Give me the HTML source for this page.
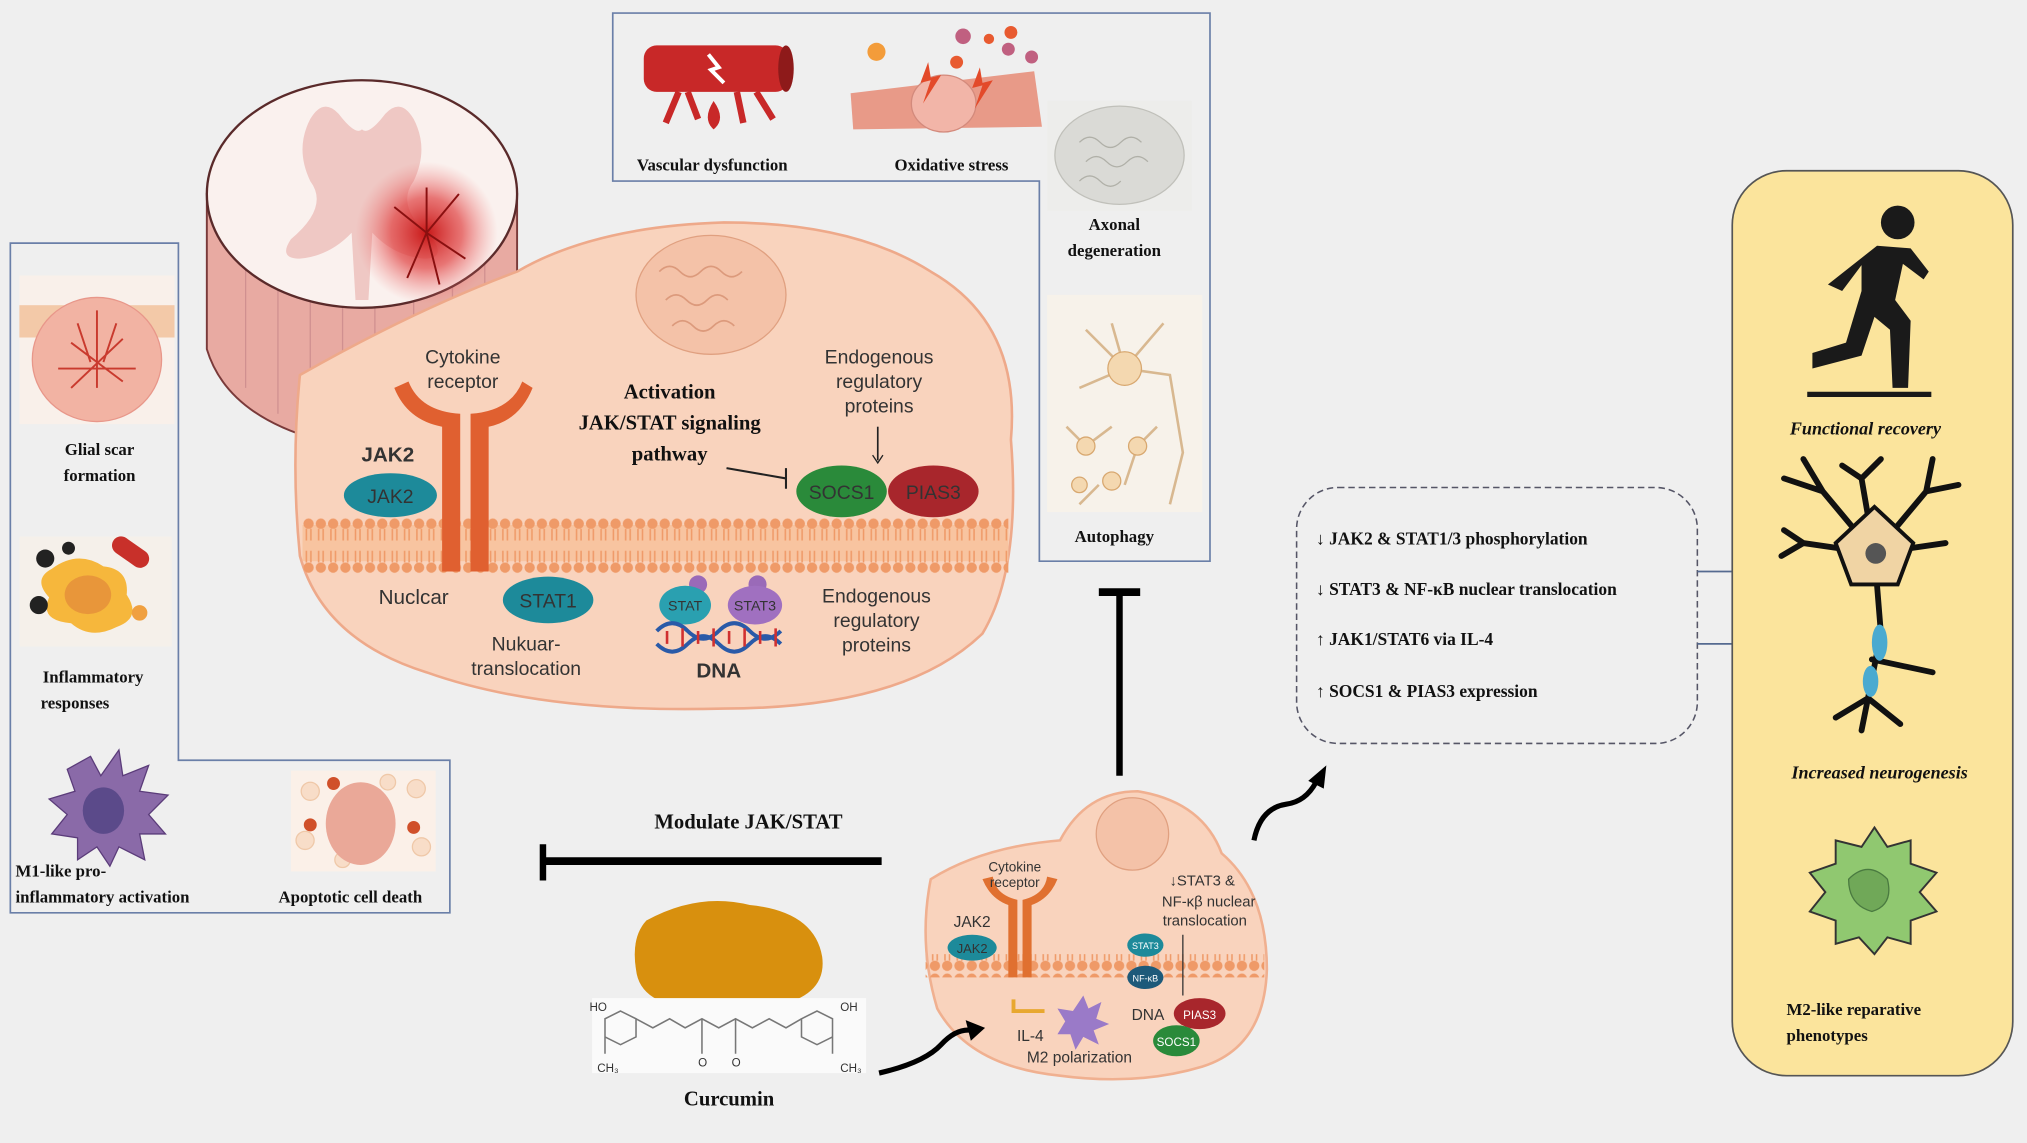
<!DOCTYPE html>
<html><head><meta charset="utf-8"><style>
html,body{margin:0;padding:0;background:#efefef;}
svg{display:block;}
.sr{font-family:"Liberation Serif",serif;font-weight:bold;fill:#111;}
.ss{font-family:"Liberation Sans","DejaVu Sans",sans-serif;fill:#333;}
</style></head><body>
<svg width="2027" height="1143" viewBox="0 0 1568 884" xmlns="http://www.w3.org/2000/svg">
<rect width="1568" height="884" fill="#efefef"/>

<!-- Left box -->
<path d="M8,188 H138 V588 H348 V706 H8 Z" fill="none" stroke="#6a7fa8" stroke-width="1.3"/>
<rect x="15" y="213" width="120" height="115" fill="#f9f0ea"/>
<rect x="15" y="236" width="120" height="25" fill="#f3c9a8"/>
<ellipse cx="75" cy="278" rx="50" ry="48" fill="#f2b3a3" stroke="#e8978a"/>
<g stroke="#c93a2e" stroke-width="1.5" fill="none"><path d="M75,240 V300 M55,265 L95,295 M95,262 L55,300 M45,285 H105 M60,250 L70,280 M90,250 L80,280"/></g>
<text class="sr" font-size="13" x="77" y="352" text-anchor="middle">Glial scar</text>
<text class="sr" font-size="13" x="77" y="372" text-anchor="middle">formation</text>
<rect x="15" y="415" width="118" height="85" fill="#f5f0ea"/>
<path d="M40,440 Q60,425 80,438 Q100,440 98,460 Q110,478 90,485 Q70,495 55,482 Q30,480 38,462 Q25,448 40,440Z" fill="#f6b73c"/>
<ellipse cx="68" cy="460" rx="18" ry="15" fill="#e8963a"/>
<rect x="85" y="420" width="32" height="14" rx="7" fill="#c8302a" transform="rotate(35 101 427)"/>
<circle cx="35" cy="432" r="7" fill="#222"/><circle cx="30" cy="468" r="7" fill="#222"/><circle cx="53" cy="424" r="5" fill="#222"/>
<circle cx="108" cy="474" r="6" fill="#f0a040"/>
<text class="sr" font-size="13" x="72" y="528" text-anchor="middle">Inflammatory</text>
<text class="sr" font-size="13" x="58" y="548" text-anchor="middle">responses</text>
<path d="M70,585 L78,600 L92,580 L95,600 L115,592 L108,612 L130,615 L115,630 L128,645 L108,645 L112,665 L92,655 L85,670 L75,655 L60,665 L60,648 L40,645 L52,630 L38,618 L58,612 L52,595Z" fill="#8a6aa8" stroke="#5b3c7a"/>
<ellipse cx="80" cy="627" rx="16" ry="18" fill="#5b4a8a"/>
<text class="sr" font-size="13" x="12" y="678">M1-like pro-</text>
<text class="sr" font-size="13" x="12" y="698">inflammatory  activation</text>
<rect x="225" y="596" width="112" height="78" fill="#fbf0e8"/>
<g fill="#f8ddc8" stroke="#efc8a8"><circle cx="240" cy="612" r="7"/><circle cx="322" cy="610" r="7"/><circle cx="236" cy="650" r="7"/><circle cx="326" cy="655" r="7"/><circle cx="300" cy="605" r="6"/><circle cx="265" cy="665" r="6"/></g>
<ellipse cx="279" cy="637" rx="27" ry="32" fill="#eaa898"/>
<g fill="#d0502a"><circle cx="258" cy="606" r="5"/><circle cx="240" cy="638" r="5"/><circle cx="320" cy="640" r="5"/></g>
<text class="sr" font-size="13" x="271" y="698" text-anchor="middle">Apoptotic  cell death</text>

<!-- Top box -->
<path d="M474,10 H936 V434 H804 V140 H474 Z" fill="none" stroke="#6a7fa8" stroke-width="1.3"/>
<rect x="498" y="35" width="112" height="36" rx="10" fill="#c82828"/>
<ellipse cx="608" cy="53" rx="6" ry="18" fill="#8e1a1a"/>
<path d="M548,42 L556,52 L550,54 L560,64" stroke="#fff" stroke-width="3" fill="none"/>
<g stroke="#c82828" stroke-width="5" fill="none"><path d="M525,71 L515,95 M532,71 L540,92 M570,71 L575,95 M585,71 L598,92"/></g>
<path d="M552,78 Q543,92 552,100 Q562,92 552,78Z" fill="#c82828"/>
<text class="sr" font-size="13" x="551" y="132" text-anchor="middle">Vascular dysfunction</text>
<path d="M658,72 L800,55 L806,98 L660,100Z" fill="#e89a88"/>
<ellipse cx="730" cy="80" rx="25" ry="22" fill="#f2b5a8" stroke="#d38a7c"/>
<g fill="#e34a2a"><path d="M718,48 L712,64 L720,62 L714,80 L728,58 L720,60Z"/><path d="M758,52 L752,68 L760,66 L754,84 L768,62 L760,64Z"/></g>
<g fill="#c06080"><circle cx="745" cy="28" r="6"/><circle cx="780" cy="38" r="5"/><circle cx="798" cy="44" r="5"/></g>
<g fill="#e85a30"><circle cx="740" cy="48" r="5"/><circle cx="765" cy="30" r="4"/><circle cx="782" cy="25" r="5"/></g>
<circle cx="678" cy="40" r="7" fill="#f39c3a"/>
<text class="sr" font-size="13" x="736" y="132" text-anchor="middle">Oxidative  stress</text>
<rect x="810" y="78" width="112" height="85" fill="#ededeb"/>
<ellipse cx="866" cy="120" rx="50" ry="38" fill="#dadad6" stroke="#c0c0ba"/>
<g stroke="#b0b0a8" fill="none"><path d="M835,110 q8,-8 16,0 t16,0 t16,0 M840,125 q8,-8 16,0 t16,0 t16,0 M835,140 q8,-8 16,0 t16,0"/></g>
<text class="sr" font-size="13" x="862" y="178" text-anchor="middle">Axonal</text>
<text class="sr" font-size="13" x="862" y="198" text-anchor="middle">degeneration</text>
<rect x="810" y="228" width="120" height="168" fill="#f7f2ea"/>
<g stroke="#d8b890" stroke-width="2" fill="none"><path d="M870,285 L840,255 M870,285 L900,250 M870,285 L905,290 L915,350 L905,390 M870,285 L835,300 M870,285 L860,250 M840,345 L825,330 M840,345 L860,330 M880,345 L895,330 M880,345 L870,375 M850,375 L835,390"/></g>
<g fill="#f4d8b0" stroke="#d8a870"><circle cx="870" cy="285" r="13"/><circle cx="840" cy="345" r="7"/><circle cx="880" cy="345" r="7"/><circle cx="860" cy="372" r="7"/><circle cx="835" cy="375" r="6"/></g>
<text class="sr" font-size="13" x="862" y="419" text-anchor="middle">Autophagy</text>

<!-- spinal cord cylinder -->
<path d="M160,150 V270 Q175,320 245,340 L400,250 V150Z" fill="#e8aaa2" stroke="#7a3a3a" stroke-width="1.5"/>
<g stroke="#d09090" stroke-width="1"><path d="M190,200 V300 M215,200 V320 M240,210 V330 M265,210 V320 M290,210 V310 M320,210 V300 M350,210 V280 M375,200 V265"/></g>
<ellipse cx="280" cy="150" rx="120" ry="88" fill="#faf1ee" stroke="#5a2a2a" stroke-width="1.8"/>
<path d="M262,88 Q250,75 240,92 Q228,115 240,140 Q255,160 225,185 Q215,200 232,200 Q255,198 272,180 L275,232 L285,232 L288,180 Q305,198 328,200 Q345,200 335,185 Q305,160 320,140 Q332,115 320,92 Q310,75 298,88 Q285,105 280,100 Q275,105 262,88Z" fill="#efc8c4"/>
<radialGradient id="inj"><stop offset="0" stop-color="#c81818"/><stop offset="0.5" stop-color="#e04040" stop-opacity="0.7"/><stop offset="1" stop-color="#f08080" stop-opacity="0"/></radialGradient>
<circle cx="330" cy="180" r="55" fill="url(#inj)"/>
<g stroke="#8a1010" stroke-width="1.5" fill="none"><path d="M330,180 L305,160 M330,180 L355,150 M330,180 L360,200 M330,180 L315,215 M330,180 L340,220 M330,180 L330,145"/></g>
<line x1="392" y1="225" x2="460" y2="270" stroke="#222" stroke-width="1.3"/>
<path d="M460,272 L450,268 L455,262Z" fill="#222"/>

<!-- big cell -->
<path d="M232,290 Q320,240 400,210 Q460,175 560,172 Q660,172 720,210 Q790,250 782,340 Q790,440 760,490 Q700,548 560,548 Q420,552 330,520 Q250,495 232,430 Q225,360 232,290Z" fill="#f9d3bd" stroke="#eea98a" stroke-width="2"/>
<ellipse cx="550" cy="228" rx="58" ry="46" fill="#f4c2a8" stroke="#e0a080"/>
<g stroke="#dc9a7c" stroke-width="1.3" fill="none"><path d="M510,210 q8,-8 16,0 t16,0 t16,0 t16,0 M515,232 q8,-8 16,0 t16,0 t16,0 M520,252 q8,-8 16,0 t16,0 t16,0"/></g>
<rect x="234" y="406" width="546" height="28" fill="#f8c4a0"/>
<pattern id="lip" width="9.5" height="44" patternUnits="userSpaceOnUse" x="234" y="400">
<circle cx="4.7" cy="5" r="4" fill="#ef9a68"/><circle cx="4.7" cy="39" r="4" fill="#ef9a68"/>
<path d="M3,9 V18 M6.5,9 V18 M3,26 V35 M6.5,26 V35" stroke="#ef9a68" stroke-width="1.2"/>
</pattern>
<rect x="234" y="400" width="546" height="44" fill="url(#lip)"/>
<path d="M305,300 Q315,325 342,330 V442 H356 V320 Q325,318 316,295Z" fill="#e06030"/>
<path d="M412,300 Q402,325 378,330 V442 H364 V320 Q395,318 404,295Z" fill="#e06030"/>
<text class="ss" font-size="15" x="358" y="281" text-anchor="middle">Cytokine</text>
<text class="ss" font-size="15" x="358" y="300" text-anchor="middle">receptor</text>
<text class="ss" font-size="16" x="300" y="357" text-anchor="middle" fill="#222" font-weight="bold">JAK2</text>
<ellipse cx="302" cy="383" rx="36" ry="17" fill="#1d8a9a"/>
<text class="ss" font-size="15" x="302" y="389" text-anchor="middle" fill="#e8f6f8">JAK2</text>
<text class="sr" font-size="16" x="518" y="308" text-anchor="middle">Activation</text>
<text class="sr" font-size="16" x="518" y="332" text-anchor="middle">JAK/STAT  signaling</text>
<text class="sr" font-size="16" x="518" y="356" text-anchor="middle">pathway</text>
<path d="M562,362 L608,370 M608,362 V378" stroke="#222" stroke-width="1.6"/>
<text class="ss" font-size="15" x="680" y="281" text-anchor="middle">Endogenous</text>
<text class="ss" font-size="15" x="680" y="300" text-anchor="middle">regulatory</text>
<text class="ss" font-size="15" x="680" y="319" text-anchor="middle">proteins</text>
<line x1="679" y1="330" x2="679" y2="356" stroke="#222" stroke-width="1.3"/><path d="M675,352 L679,358 L683,352" fill="none" stroke="#222"/>
<ellipse cx="651" cy="380" rx="35" ry="20" fill="#2a8a3a"/>
<text class="ss" font-size="15" x="651" y="386" text-anchor="middle" fill="#eef">SOCS1</text>
<ellipse cx="722" cy="380" rx="35" ry="20" fill="#a8262c"/>
<text class="ss" font-size="15" x="722" y="386" text-anchor="middle" fill="#fde">PIAS3</text>
<text class="ss" font-size="16" x="320" y="467" text-anchor="middle">Nuclcar</text>
<ellipse cx="424" cy="464" rx="35" ry="18" fill="#1d8a9a"/>
<text class="ss" font-size="15" x="424" y="470" text-anchor="middle" fill="#eef">STAT1</text>
<text class="ss" font-size="15" x="407" y="503" text-anchor="middle">Nukuar-</text>
<text class="ss" font-size="15" x="407" y="522" text-anchor="middle">translocation</text>
<circle cx="540" cy="452" r="7" fill="#9a6ab8"/><circle cx="586" cy="452" r="7" fill="#9a6ab8"/>
<ellipse cx="530" cy="468" rx="20" ry="15" fill="#2aa0b0"/><ellipse cx="584" cy="468" rx="21" ry="15" fill="#a070c0"/>
<text class="ss" font-size="11" x="530" y="472" text-anchor="middle" fill="#fff">STAT</text>
<text class="ss" font-size="11" x="584" y="472" text-anchor="middle" fill="#fff">STAT3</text>
<path d="M508,488 q12,-12 24,0 t24,0 t24,0 t24,0 M508,498 q12,12 24,0 t24,0 t24,0 t24,0" stroke="#2a5aa8" stroke-width="3" fill="none"/>
<g stroke="#d03030" stroke-width="2"><path d="M516,488 V498 M528,486 V500 M540,488 V498 M552,486 V500 M564,488 V498 M576,486 V500 M588,488 V498 M600,486 V500"/></g>
<text class="ss" font-size="16" x="556" y="524" text-anchor="middle" font-weight="bold" fill="#333">DNA</text>
<text class="ss" font-size="15" x="678" y="466" text-anchor="middle">Endogenous</text>
<text class="ss" font-size="15" x="678" y="485" text-anchor="middle">regulatory</text>
<text class="ss" font-size="15" x="678" y="504" text-anchor="middle">proteins</text>

<line x1="866" y1="458" x2="866" y2="600" stroke="#000" stroke-width="5"/>
<line x1="850" y1="458" x2="882" y2="458" stroke="#000" stroke-width="6"/>
<text class="sr" font-size="16" x="579" y="641" text-anchor="middle">Modulate JAK/STAT</text>
<line x1="420" y1="666" x2="682" y2="666" stroke="#000" stroke-width="6"/>
<line x1="420" y1="653" x2="420" y2="681" stroke="#000" stroke-width="5"/>

<!-- curcumin -->
<path d="M500,712 Q540,690 580,700 Q630,705 636,740 Q640,770 600,778 Q570,790 540,780 Q495,778 492,750 Q488,725 500,712Z" fill="#d8900e"/>
<rect x="458" y="772" width="212" height="58" fill="#fafafa"/>
<g stroke="#777" stroke-width="1.2" fill="none">
<path d="M480,782 L492,788 V802 L480,808 L468,802 V788Z M492,788 L505,795 L518,788 L530,795 L543,788 L556,795 L569,788 L582,795 L595,788 L608,795 L620,788 M620,788 L632,782 L644,788 V802 L632,808 L620,802 Z M543,788 V815 M569,788 V815 M468,802 V815 M644,802 V815"/>
</g>
<text x="456" y="782" font-size="9" fill="#333" font-family="Liberation Sans,sans-serif">HO</text>
<text x="650" y="782" font-size="9" fill="#333" font-family="Liberation Sans,sans-serif">OH</text>
<text x="462" y="829" font-size="9" fill="#333" font-family="Liberation Sans,sans-serif">CH₃</text>
<text x="650" y="829" font-size="9" fill="#333" font-family="Liberation Sans,sans-serif">CH₃</text>
<text x="540" y="825" font-size="9" fill="#333" font-family="Liberation Sans,sans-serif">O</text>
<text x="566" y="825" font-size="9" fill="#333" font-family="Liberation Sans,sans-serif">O</text>
<text class="sr" font-size="16" x="564" y="855" text-anchor="middle">Curcumin</text>

<!-- small cell -->
<path d="M720,680 Q760,655 820,650 Q840,612 880,612 Q930,620 945,660 Q980,690 980,750 Q978,810 930,825 Q880,840 820,832 Q750,825 725,780 Q710,730 720,680Z" fill="#f9d3bd" stroke="#f0b090" stroke-width="2"/>
<circle cx="876" cy="645" r="28" fill="#f4c2a8" stroke="#e0a080"/>
<rect x="716" y="738" width="262" height="18" fill="url(#lip)"/>
<path d="M760,680 Q766,695 780,700 V756 H787 V696 Q770,692 768,678Z M818,680 Q812,695 798,700 V756 H791 V696 Q808,692 810,678Z" fill="#e07030"/>
<text class="ss" font-size="10.5" x="785" y="674" text-anchor="middle">Cytokine</text>
<text class="ss" font-size="10.5" x="785" y="686" text-anchor="middle">receptor</text>
<text class="ss" font-size="12" x="752" y="717" text-anchor="middle">JAK2</text>
<ellipse cx="752" cy="733" rx="19" ry="10" fill="#1d8a9a"/>
<text class="ss" font-size="10" x="752" y="737" text-anchor="middle" fill="#fff">JAK2</text>
<text class="ss" font-size="11.5" x="930" y="685" text-anchor="middle">↓STAT3 &amp;</text>
<text class="ss" font-size="11.5" x="935" y="701" text-anchor="middle">NF-κβ nuclear</text>
<text class="ss" font-size="11.5" x="932" y="716" text-anchor="middle">translocation</text>
<line x1="915" y1="723" x2="915" y2="770" stroke="#333"/>
<ellipse cx="886" cy="731" rx="14" ry="9" fill="#1d8a9a"/><text x="886" y="734" font-size="7" fill="#fff" text-anchor="middle" font-family="Liberation Sans,sans-serif">STAT3</text>
<ellipse cx="886" cy="756" rx="14" ry="9" fill="#1d5a7a"/><text x="886" y="759" font-size="7" fill="#fff" text-anchor="middle" font-family="Liberation Sans,sans-serif">NF-κB</text>
<text class="ss" font-size="12" x="888" y="789" text-anchor="middle" fill="#222">DNA</text>
<ellipse cx="928" cy="784" rx="20" ry="12" fill="#a8262c"/><text x="928" y="788" font-size="9" fill="#fff" text-anchor="middle" font-family="Liberation Sans,sans-serif">PIAS3</text>
<ellipse cx="910" cy="805" rx="18" ry="12" fill="#2a8a3a"/><text x="910" y="809" font-size="9" fill="#fff" text-anchor="middle" font-family="Liberation Sans,sans-serif">SOCS1</text>
<path d="M784,773 V782 H808" stroke="#e8a830" stroke-width="3" fill="none"/>
<path d="M838,770 L842,780 L852,775 L848,788 L858,792 L846,797 L850,808 L838,802 L832,812 L828,800 L818,800 L824,790 L818,780 L830,782Z" fill="#9a7ac8"/>
<text class="ss" font-size="12" x="797" y="805" text-anchor="middle">IL-4</text>
<text class="ss" font-size="12" x="835" y="822" text-anchor="middle">M2 polarization</text>

<!-- curcumin arrow (on top) -->
<path d="M680,830 Q715,822 728,808 Q740,795 752,797" stroke="#000" stroke-width="4" fill="none"/>
<path d="M762,795 L747,789 L751,805Z" fill="#000"/>
<path d="M970,650 Q975,625 995,622 Q1010,620 1018,605" stroke="#000" stroke-width="4" fill="none"/>
<path d="M1026,592 L1012,604 L1024,610Z" fill="#000"/>

<!-- dashed box -->
<rect x="1003" y="377" width="310" height="198" rx="32" fill="none" stroke="#556" stroke-width="1.2" stroke-dasharray="5,3"/>
<text class="sr" font-size="13.5" x="1018" y="421">↓ JAK2 &amp; STAT1/3 phosphorylation</text>
<text class="sr" font-size="13.5" x="1018" y="460">↓ STAT3 &amp; NF-κB  nuclear translocation</text>
<text class="sr" font-size="13.5" x="1018" y="499">↑ JAK1/STAT6  via IL-4</text>
<text class="sr" font-size="13.5" x="1018" y="539">↑ SOCS1 &amp; PIAS3  expression</text>
<path d="M1313,442 H1340 M1313,498 H1340" stroke="#556a90" stroke-width="1.3"/>

<!-- yellow panel -->
<rect x="1340" y="132" width="217" height="700" rx="42" fill="#fbe49c" stroke="#555" stroke-width="1.3"/>
<circle cx="1468" cy="172" r="13" fill="#1a1a1a"/>
<path d="M1452,190 L1478,192 L1492,210 L1488,216 L1472,204 L1466,232 L1478,248 L1476,300 L1464,300 L1462,255 L1450,245 L1440,275 L1402,285 L1402,273 L1428,265 L1440,225 L1440,205 L1425,225 L1414,220Z" fill="#1a1a1a"/>
<line x1="1398" y1="305" x2="1494" y2="305" stroke="#1a1a1a" stroke-width="4"/>
<text class="sr" font-size="14" font-style="italic" x="1443" y="336" text-anchor="middle">Functional recovery</text>
<g stroke="#111" stroke-width="4.5" fill="none" stroke-linecap="round">
<path d="M1450,428 L1410,380 L1380,370 M1410,380 L1395,355 M1450,428 L1440,370 L1425,360 M1440,370 L1455,355 M1450,428 L1490,380 L1515,375 M1490,380 L1495,355 M1450,428 L1505,420 M1450,428 L1395,420 L1378,430 M1395,420 L1380,410 M1450,428 L1455,490 L1445,540 L1420,555 M1445,540 L1470,560 M1445,540 L1440,565 M1448,510 L1495,520"/>
</g>
<path d="M1450,392 L1480,420 L1468,452 L1432,452 L1420,420Z" fill="#f0d4a4" stroke="#111" stroke-width="3"/>
<circle cx="1451" cy="428" r="8" fill="#555"/>
<ellipse cx="1454" cy="497" rx="6" ry="14" fill="#4aaad0"/><ellipse cx="1447" cy="527" rx="6" ry="12" fill="#4aaad0"/>
<text class="sr" font-size="14" font-style="italic" x="1454" y="602" text-anchor="middle">Increased neurogenesis</text>
<path d="M1450,640 L1460,655 L1478,650 L1478,668 L1498,675 L1485,690 L1498,705 L1478,712 L1478,730 L1460,725 L1450,738 L1438,725 L1420,730 L1420,712 L1400,705 L1412,690 L1400,675 L1420,668 L1420,650 L1440,655Z" fill="#90c870" stroke="#333" stroke-width="1.5"/>
<path d="M1430,680 Q1445,665 1460,680 Q1465,700 1448,705 Q1430,700 1430,680Z" fill="#70a858" stroke="#4a7a40"/>
<text class="sr" font-size="13" x="1382" y="785">M2-like reparative</text>
<text class="sr" font-size="13" x="1382" y="805">phenotypes</text>
</svg>
</body></html>
